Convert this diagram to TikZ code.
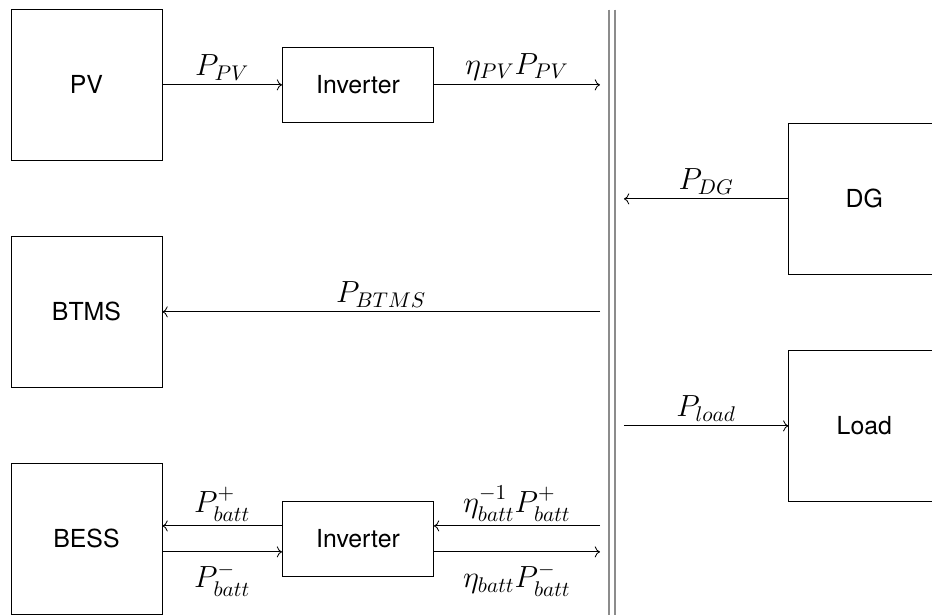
\documentclass[tikz,border=0pt]{standalone}
\usepackage{amsmath}
\usepackage{fontspec}
\newfontfamily\boxfont{TeX Gyre Heros}
\usetikzlibrary{arrows.meta,positioning}
\definecolor{busgray}{RGB}{140,140,140}
\tikzset{
  unit/.style={draw, thin, minimum width=2.5cm, minimum height=2.5cm, font=\boxfont\fontsize{11.7}{14}\selectfont},
  conv/.style={draw, thin, minimum width=2.5cm, minimum height=1.25cm, font=\boxfont\fontsize{11.7}{14}\selectfont},
  flow/.style={->, thin},
  lbl/.style={font=\fontsize{14.5}{17}\selectfont, inner sep=2pt}
}
\begin{document}
\begin{tikzpicture}
\useasboundingbox (0,0) rectangle (15.43,10.18);
% Sources and storage (left)
\node[unit] (pv) at (1.432,8.775) {PV};
\node[conv] (invpv) at (5.927,8.775) {Inverter};
\node[unit] (btms) at (1.432,5.017) {BTMS};
\node[unit] (bess) at (1.432,1.258) {BESS};
\node[conv] (invbess) at (5.927,1.258) {Inverter};
% Generator and load (right)
\node[unit] (dg) at (14.31,6.887) {DG};
\node[unit] (load) at (14.31,3.129) {Load};
% AC bus
\draw[busgray, line width=0.8pt] (10.08,10.02) -- (10.08,0);
\draw[busgray, line width=0.8pt] (10.18,10.02) -- (10.18,0);
\coordinate (busin) at (9.934,0);
\coordinate (busout) at (10.33,0);
% PV branch
\draw[flow] (pv) -- node[lbl, above] {$P_{PV}$} (invpv);
\draw[flow] (invpv.east) -- node[lbl, above] {$\eta_{PV} P_{PV}$} (invpv.east -| busin);
% DG and load
\draw[flow] (dg.west) -- node[lbl, above] {$P_{DG}$} (dg.west -| busout);
\draw[flow] (load.west -| busout) -- node[lbl, above] {$P_{load}$} (load.west);
% BTMS
\draw[flow] (btms.east -| busin) -- node[lbl, above] {$P_{BTMS}$} (btms.east);
% BESS branch
\draw[flow] ([yshift=0.215cm]invbess.west) -- node[lbl, above] {$P_{batt}^{+}$} ([yshift=0.215cm]invbess.west -| bess.east);
\draw[flow] ([yshift=-0.215cm]invbess.west -| bess.east) -- node[lbl, below=3pt] {$P_{batt}^{-}$} ([yshift=-0.215cm]invbess.west);
\draw[flow] ([yshift=0.215cm]invbess.east -| busin) -- node[lbl, above] {$\eta_{batt}^{-1} P_{batt}^{+}$} ([yshift=0.215cm]invbess.east);
\draw[flow] ([yshift=-0.215cm]invbess.east) -- node[lbl, below=3pt] {$\eta_{batt} P_{batt}^{-}$} ([yshift=-0.215cm]invbess.east -| busin);
\end{tikzpicture}
\end{document}
